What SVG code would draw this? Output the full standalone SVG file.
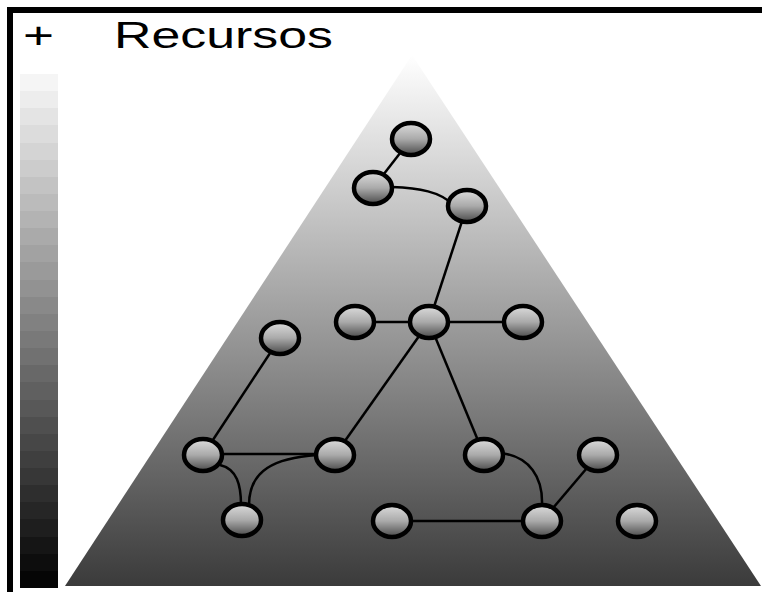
<svg xmlns="http://www.w3.org/2000/svg" width="762" height="592" viewBox="0 0 762 592">
<defs>
<style>
.node{fill:url(#ng);stroke:#000;stroke-width:4.5}
.edge{fill:none;stroke:#000;stroke-width:2.5}
.lbl{font-family:"Liberation Sans",Arial,sans-serif;font-size:37px;fill:#000}
</style>
<linearGradient id="tg" gradientUnits="userSpaceOnUse" x1="0" y1="55" x2="0" y2="588">
<stop offset="0" stop-color="#ffffff"/>
<stop offset="1" stop-color="#3a3a3a"/>
</linearGradient>
<linearGradient id="ng" x1="0" y1="0" x2="0" y2="1">
<stop offset="0" stop-color="#dcdcdc"/>
<stop offset="0.5" stop-color="#aaaaaa"/>
<stop offset="1" stop-color="#4a4a4a"/>
</linearGradient>
<linearGradient id="bg" x1="0" y1="0" x2="0" y2="1">
<stop offset="0" stop-color="#f5f5f5"/><stop offset="0.0333" stop-color="#f5f5f5"/>
<stop offset="0.0333" stop-color="#ededed"/><stop offset="0.0667" stop-color="#ededed"/>
<stop offset="0.0667" stop-color="#e4e4e4"/><stop offset="0.1" stop-color="#e4e4e4"/>
<stop offset="0.1" stop-color="#dcdcdc"/><stop offset="0.1333" stop-color="#dcdcdc"/>
<stop offset="0.1333" stop-color="#d4d4d4"/><stop offset="0.1667" stop-color="#d4d4d4"/>
<stop offset="0.1667" stop-color="#cccccc"/><stop offset="0.2" stop-color="#cccccc"/>
<stop offset="0.2" stop-color="#c3c3c3"/><stop offset="0.2333" stop-color="#c3c3c3"/>
<stop offset="0.2333" stop-color="#bbbbbb"/><stop offset="0.2667" stop-color="#bbbbbb"/>
<stop offset="0.2667" stop-color="#b3b3b3"/><stop offset="0.3" stop-color="#b3b3b3"/>
<stop offset="0.3" stop-color="#aaaaaa"/><stop offset="0.3333" stop-color="#aaaaaa"/>
<stop offset="0.3333" stop-color="#a2a2a2"/><stop offset="0.3667" stop-color="#a2a2a2"/>
<stop offset="0.3667" stop-color="#9a9a9a"/><stop offset="0.4" stop-color="#9a9a9a"/>
<stop offset="0.4" stop-color="#929292"/><stop offset="0.4333" stop-color="#929292"/>
<stop offset="0.4333" stop-color="#898989"/><stop offset="0.4667" stop-color="#898989"/>
<stop offset="0.4667" stop-color="#818181"/><stop offset="0.5" stop-color="#818181"/>
<stop offset="0.5" stop-color="#797979"/><stop offset="0.5333" stop-color="#797979"/>
<stop offset="0.5333" stop-color="#717171"/><stop offset="0.5667" stop-color="#717171"/>
<stop offset="0.5667" stop-color="#686868"/><stop offset="0.6" stop-color="#686868"/>
<stop offset="0.6" stop-color="#606060"/><stop offset="0.6333" stop-color="#606060"/>
<stop offset="0.6333" stop-color="#585858"/><stop offset="0.6667" stop-color="#585858"/>
<stop offset="0.6667" stop-color="#4f4f4f"/><stop offset="0.7" stop-color="#4f4f4f"/>
<stop offset="0.7" stop-color="#474747"/><stop offset="0.7333" stop-color="#474747"/>
<stop offset="0.7333" stop-color="#3f3f3f"/><stop offset="0.7667" stop-color="#3f3f3f"/>
<stop offset="0.7667" stop-color="#373737"/><stop offset="0.8" stop-color="#373737"/>
<stop offset="0.8" stop-color="#2e2e2e"/><stop offset="0.8333" stop-color="#2e2e2e"/>
<stop offset="0.8333" stop-color="#262626"/><stop offset="0.8667" stop-color="#262626"/>
<stop offset="0.8667" stop-color="#1e1e1e"/><stop offset="0.9" stop-color="#1e1e1e"/>
<stop offset="0.9" stop-color="#151515"/><stop offset="0.9333" stop-color="#151515"/>
<stop offset="0.9333" stop-color="#0d0d0d"/><stop offset="0.9667" stop-color="#0d0d0d"/>
<stop offset="0.9667" stop-color="#050505"/><stop offset="1" stop-color="#050505"/>
</linearGradient>
</defs>
<rect x="0" y="0" width="762" height="592" fill="#ffffff"/>
<g id="frame" stroke="#000" stroke-width="6" fill="none">
<line x1="7" y1="10" x2="762" y2="10"/>
<line x1="10" y1="7" x2="10" y2="592"/>
</g>
<g id="title">
<text class="lbl" x="23" y="48" textLength="31" lengthAdjust="spacingAndGlyphs">+</text>
<text class="lbl" x="114" y="48" textLength="219" lengthAdjust="spacingAndGlyphs">Recursos</text>
</g>
<rect id="scale-bar" x="20" y="74" width="38" height="514" fill="url(#bg)"/>
<polygon id="pyramid" points="412,55 65,586 761,586" fill="url(#tg)"/>
<g id="connectors" class="edge">
<line x1="411" y1="139" x2="373" y2="188"/>
<path d="M392 187 C420 188 440 192 452 204"/>
<line x1="467" y1="206" x2="429" y2="322"/>
<line x1="355" y1="322" x2="523" y2="322"/>
<line x1="429" y1="322" x2="335" y2="455"/>
<line x1="429" y1="322" x2="484" y2="455"/>
<line x1="280" y1="338" x2="203" y2="455"/>
<line x1="203" y1="454" x2="335" y2="454"/>
<path d="M220 465 C237 469 241 485 241 505"/>
<path d="M317 455 C275 458 249 470 249 505"/>
<path d="M500 453 C530 456 543 478 542 505"/>
<line x1="598" y1="455" x2="542" y2="521"/>
<line x1="392" y1="521" x2="542" y2="521"/>
</g>
<g id="n1"><ellipse class="node" cx="411" cy="139" rx="19" ry="16"/></g>
<g id="n2"><ellipse class="node" cx="373" cy="188" rx="19" ry="16"/></g>
<g id="n3"><ellipse class="node" cx="467" cy="206" rx="19" ry="16"/></g>
<g id="n4"><ellipse class="node" cx="355" cy="322" rx="19" ry="16"/></g>
<g id="n5"><ellipse class="node" cx="429" cy="322" rx="19" ry="16"/></g>
<g id="n6"><ellipse class="node" cx="523" cy="322" rx="19" ry="16"/></g>
<g id="n7"><ellipse class="node" cx="280" cy="338" rx="19" ry="16"/></g>
<g id="n8"><ellipse class="node" cx="203" cy="455" rx="19" ry="16"/></g>
<g id="n9"><ellipse class="node" cx="335" cy="455" rx="19" ry="16"/></g>
<g id="n10"><ellipse class="node" cx="484" cy="455" rx="19" ry="16"/></g>
<g id="n11"><ellipse class="node" cx="598" cy="455" rx="19" ry="16"/></g>
<g id="n12"><ellipse class="node" cx="242" cy="520" rx="19" ry="16"/></g>
<g id="n13"><ellipse class="node" cx="392" cy="521" rx="19" ry="16"/></g>
<g id="n14"><ellipse class="node" cx="542" cy="521" rx="19" ry="16"/></g>
<g id="n15"><ellipse class="node" cx="637" cy="521" rx="19" ry="16"/></g>
</svg>
